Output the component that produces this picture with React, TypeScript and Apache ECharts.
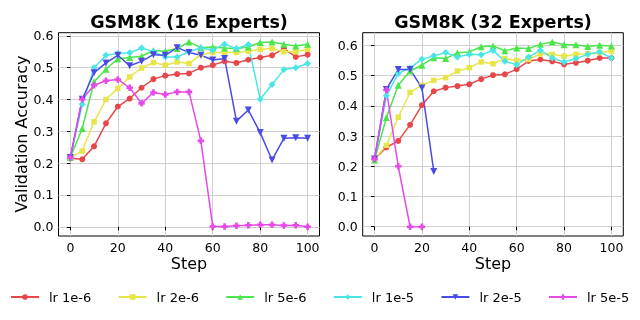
import React, { useEffect, useRef } from "react";
import * as echarts from "echarts";

const steps = [0, 5, 10, 15, 20, 25, 30, 35, 40, 45, 50, 55, 60, 65, 70, 75, 80, 85, 90, 95, 100];
const xTicks = [0, 20, 40, 60, 80, 100];
const yTicks = [0, 0.1, 0.2, 0.3, 0.4, 0.5, 0.6];
const titles = ["GSM8K (16 Experts)", "GSM8K (32 Experts)"];
const names = ["lr 1e-6", "lr 2e-6", "lr 5e-6", "lr 1e-5", "lr 2e-5", "lr 5e-5"];

// 16 experts
const lr1e6_16 = [0.215, 0.212, 0.253, 0.325, 0.378, 0.403, 0.437, 0.464, 0.475, 0.48, 0.482, 0.5, 0.508, 0.52, 0.515, 0.525, 0.532, 0.539, 0.56, 0.534, 0.541];
const lr2e6_16 = [0.218, 0.238, 0.33, 0.4, 0.435, 0.471, 0.499, 0.516, 0.508, 0.518, 0.513, 0.541, 0.548, 0.548, 0.548, 0.552, 0.558, 0.56, 0.55, 0.55, 0.558];
const lr5e6_16 = [0.218, 0.309, 0.456, 0.495, 0.528, 0.532, 0.536, 0.554, 0.552, 0.56, 0.581, 0.563, 0.565, 0.562, 0.56, 0.565, 0.579, 0.581, 0.574, 0.568, 0.574];
const lr1e5_16 = [0.218, 0.385, 0.5, 0.539, 0.545, 0.547, 0.562, 0.55, 0.534, 0.534, 0.55, 0.563, 0.555, 0.574, 0.56, 0.573, 0.401, 0.447, 0.494, 0.5, 0.513];
const lr2e5_16 = [0.218, 0.401, 0.484, 0.515, 0.539, 0.506, 0.52, 0.541, 0.539, 0.563, 0.548, 0.539, 0.524, 0.529, 0.332, 0.367, 0.296, 0.21, 0.278, 0.28, 0.278];
const lr5e5_16 = [0.218, 0.401, 0.445, 0.459, 0.463, 0.437, 0.388, 0.422, 0.416, 0.424, 0.424, 0.27, 0.001, 0.001, 0.003, 0.005, 0.006, 0.006, 0.004, 0.005, 0.0];

// 32 experts
const lr1e6_32 = [0.224, 0.262, 0.284, 0.337, 0.402, 0.448, 0.46, 0.465, 0.471, 0.488, 0.501, 0.504, 0.521, 0.548, 0.553, 0.547, 0.537, 0.542, 0.549, 0.558, 0.558];
const lr2e6_32 = [0.224, 0.269, 0.362, 0.444, 0.468, 0.484, 0.493, 0.515, 0.526, 0.545, 0.539, 0.556, 0.55, 0.553, 0.572, 0.57, 0.564, 0.57, 0.572, 0.576, 0.581];
const lr5e6_32 = [0.221, 0.361, 0.468, 0.515, 0.534, 0.559, 0.556, 0.575, 0.578, 0.595, 0.598, 0.582, 0.591, 0.589, 0.603, 0.611, 0.602, 0.602, 0.596, 0.6, 0.598];
const lr1e5_32 = [0.224, 0.433, 0.507, 0.525, 0.554, 0.565, 0.576, 0.561, 0.57, 0.569, 0.583, 0.547, 0.536, 0.561, 0.583, 0.558, 0.545, 0.556, 0.57, 0.578, 0.558];
const lr2e5_32 = [0.224, 0.454, 0.52, 0.52, 0.459, 0.183];
const lr5e5_32 = [0.224, 0.452, 0.2, 0.0, 0.0];

const colors = ["#e8474a", "#e6e64a", "#4ae64a", "#4ae6e6", "#4a4ae6", "#e64ae6"];
const plusPath = "path://M3,0H7V3H10V7H7V10H3V7H0V3H3Z";
const symbols = ["circle", "rect", "triangle", "diamond", "triangle", plusPath];
const symbolSizes = [6, 5.5, 7, 7, 7, 6.5];
const symbolRotates = [0, 0, 0, 0, 180, 0];

const FONT = "DejaVu Sans";

export default function App() {
  const ref = useRef<HTMLDivElement>(null);
  useEffect(() => {
    if (!ref.current) return;
    const chart = echarts.init(ref.current, undefined, { renderer: "svg" });
    const grids = [
      { left: 58.5, top: 32.7, width: 261, height: 203.3 },
      { left: 362.7, top: 32.7, width: 260.6, height: 203.3 },
    ];
    const yRanges = [
      [-0.029, 0.61],
      [-0.0306, 0.6416],
    ];
    const sets = [
      [lr1e6_16, lr2e6_16, lr5e6_16, lr1e5_16, lr2e5_16, lr5e5_16],
      [lr1e6_32, lr2e6_32, lr5e6_32, lr1e5_32, lr2e5_32, lr5e5_32],
    ];
    const series: any[] = [];
    sets.forEach((set, gi) => {
      set.forEach((arr, si) => {
        series.push({
          type: "line",
          name: names[si],
          xAxisIndex: gi,
          yAxisIndex: gi,
          data: arr.map((v, i) => [steps[i], v]),
          symbol: symbols[si],
          symbolSize: symbolSizes[si],
          symbolRotate: symbolRotates[si],
          showAllSymbol: true,
          color: colors[si],
          lineStyle: { width: 1.5, color: colors[si] },
          itemStyle: { color: colors[si] },
        });
      });
    });
    const axisCommonLabel = { color: "#000", fontSize: 12.5, fontFamily: FONT };
    const option: any = {
      animation: false,
      textStyle: { fontFamily: FONT },
      grid: grids.map((g) => ({ ...g, show: true, borderColor: "#000", borderWidth: 1, backgroundColor: "transparent" })),
      xAxis: grids.map((_, gi) => ({
        type: "value",
        gridIndex: gi,
        min: -5,
        max: 105,
        axisLine: { show: false },
        axisTick: { show: true, inside: false, length: 3.5, lineStyle: { color: "#000", width: 1 }, customValues: xTicks },
        axisLabel: { ...axisCommonLabel, margin: 5, customValues: xTicks },
        splitLine: { show: true, lineStyle: { color: "#d0d0d0", width: 1 } },
      })),
      yAxis: grids.map((_, gi) => ({
        type: "value",
        gridIndex: gi,
        min: yRanges[gi][0],
        max: yRanges[gi][1],
        axisLine: { show: false },
        axisTick: { show: true, inside: false, length: 3.5, lineStyle: { color: "#000", width: 1 }, customValues: yTicks },
        axisLabel: { ...axisCommonLabel, margin: 5, customValues: yTicks, formatter: (v: number) => v.toFixed(1) },
        splitLine: { show: true, lineStyle: { color: "#d0d0d0", width: 1 } },
      })),
      legend: names.map((n, i) => ({
        data: [n],
        orient: "horizontal",
        left: 10 + 107.6 * i,
        top: 290.5,
        itemWidth: 28,
        itemHeight: 7,
        itemGap: 0,
        padding: 0,
        textStyle: { fontSize: 13, color: "#000", fontFamily: FONT, padding: [0, 0, 0, 5] },
      })),
      graphic: [
        ...titles.map((t, gi) => ({
          type: "text",
          x: grids[gi].left + grids[gi].width / 2,
          y: 22.2,
          style: { text: t, fontSize: 17.5, fontWeight: "bold", fontFamily: FONT, fill: "#000", textAlign: "center", textVerticalAlign: "middle" },
        })),
        ...grids.map((g) => ({
          type: "text",
          x: g.left + g.width / 2,
          y: 263.5,
          style: { text: "Step", fontSize: 16, fontFamily: FONT, fill: "#000", textAlign: "center", textVerticalAlign: "middle" },
        })),
        {
          type: "text",
          x: 21,
          y: 134,
          rotation: Math.PI / 2,
          style: { text: "Validation Accuracy", fontSize: 16, fontFamily: FONT, fill: "#000", textAlign: "center", textVerticalAlign: "middle" },
        },
      ],
      series,
    };
    chart.setOption(option);
    return () => chart.dispose();
  }, []);
  return <div ref={ref} style={{ position: "fixed", left: 0, top: 0, width: 640, height: 320 }} />;
}
